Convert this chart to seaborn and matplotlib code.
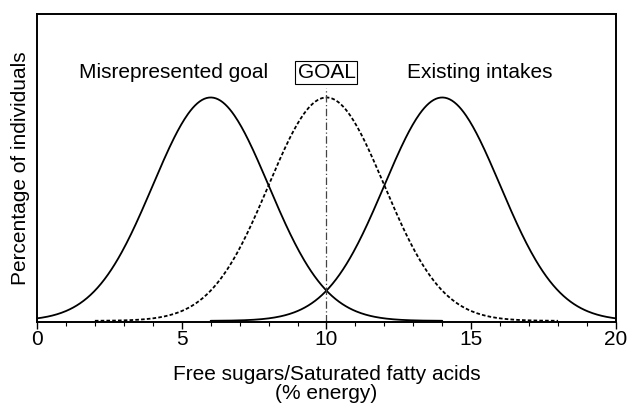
import matplotlib
matplotlib.use("Agg")
import matplotlib.pyplot as plt
import numpy as np
import pandas as pd
import seaborn as sns

# three bell curves: misrepresented goal, goal, existing intakes
curve_names = ["Misrepresented goal", "GOAL", "Existing intakes"]
curve_means = [6, 10, 14]
curve_sd = 2
curve_halfwidth = 8
goal_value = 10
x_ticks = [0, 5, 10, 15, 20]

sns.set_style("white")
plt.rcParams["font.family"] = ["Liberation Sans", "DejaVu Sans"]
plt.rcParams["text.color"] = "black"
plt.rcParams["axes.labelcolor"] = "black"
plt.rcParams["xtick.color"] = "black"

rows = []
for name, mu in zip(curve_names, curve_means):
    xs = np.linspace(mu - curve_halfwidth, mu + curve_halfwidth, 400)
    ys = 100 * np.exp(-0.5 * ((xs - mu) / curve_sd) ** 2) / (curve_sd * np.sqrt(2 * np.pi))
    rows.append(pd.DataFrame({"x": xs, "pct": ys, "curve": name}))
df = pd.concat(rows, ignore_index=True)

fig = plt.figure(figsize=(6.3, 4.05), dpi=100)
ax = fig.add_axes([0.0587, 0.205, 0.919, 0.7604])

styles = {"Misrepresented goal": "-", "GOAL": (0, (2.0, 1.2)), "Existing intakes": "-"}
for name in curve_names:
    sns.lineplot(data=df[df["curve"] == name], x="x", y="pct", ax=ax,
                 color="black", lw=1.3, linestyle=styles[name], legend=False)

# vertical goal line up to just under the box
ax.plot([goal_value, goal_value], [-0.1, 20.8], color="#444444",
        lw=0.9, linestyle=(0, (6, 2, 1, 2)))

ax.set_xlim(0, 20)
ax.set_ylim(-0.1, 27.4)
ax.set_xticks(x_ticks)
ax.set_xticks(range(0, 21), minor=True)
ax.set_yticks([])
ax.tick_params(axis="x", which="major", direction="out", length=5, width=1,
               labelsize=15, pad=1, bottom=True, colors="black")
ax.tick_params(axis="x", which="minor", direction="out", length=3, width=0.8, bottom=True,
               colors="black")
for s in ax.spines.values():
    s.set_linewidth(1.4)
    s.set_color("black")

ax.set_xlabel("Free sugars/Saturated fatty acids\n(% energy)", fontsize=15, labelpad=11,
              linespacing=1.05)
ax.set_ylabel("Percentage of individuals", fontsize=15, labelpad=5)

ax.text(4.71, 22.2, "Misrepresented goal", ha="center", va="center", fontsize=15)
ax.text(15.3, 22.2, "Existing intakes", ha="center", va="center", fontsize=15)
ax.text(goal_value, 22.2, "GOAL", ha="center", va="center", fontsize=15,
        bbox=dict(boxstyle="square,pad=0.1", fc="white", ec="black", lw=0.8))

fig.savefig("out.png", dpi=100)
